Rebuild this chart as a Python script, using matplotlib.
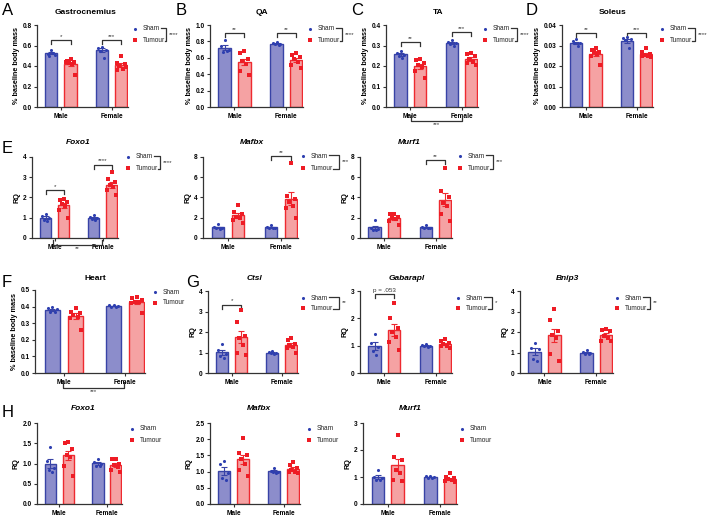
import matplotlib.pyplot as plt
import numpy as np

plt.rcParams['font.family'] = ['Liberation Sans', 'DejaVu Sans']

# Adatok (kb. leolvasva) - sorrend: sham ferfi, tumour ferfi, sham no, tumour no
gastro_sham_m = [0.56, 0.52, 0.51, 0.50, 0.53]
gastro_tum_m = [0.47, 0.45, 0.44, 0.43, 0.42, 0.44, 0.31]
gastro_sham_f = [0.59, 0.58, 0.56, 0.55, 0.48]
gastro_tum_f = [0.50, 0.43, 0.42, 0.40, 0.37, 0.36, 0.39]

qa_sham_m = [0.82, 0.75, 0.69, 0.67, 0.68]
qa_tum_m = [0.68, 0.66, 0.58, 0.56, 0.52, 0.44, 0.39]
qa_sham_f = [0.79, 0.78, 0.77, 0.77, 0.76]
qa_tum_f = [0.66, 0.64, 0.61, 0.58, 0.55, 0.51, 0.47]

ta_sham_m = [0.275, 0.262, 0.255, 0.25, 0.24]
ta_tum_m = [0.235, 0.23, 0.215, 0.205, 0.195, 0.175, 0.14]
ta_sham_f = [0.325, 0.318, 0.31, 0.305, 0.30]
ta_tum_f = [0.262, 0.258, 0.25, 0.235, 0.22, 0.215, 0.205]

sol_sham_m = [0.033, 0.032, 0.031, 0.031, 0.030]
sol_tum_m = [0.029, 0.028, 0.027, 0.027, 0.026, 0.025, 0.0205]
sol_sham_f = [0.034, 0.0335, 0.033, 0.0328, 0.0287]
sol_tum_f = [0.0288, 0.027, 0.026, 0.0255, 0.025, 0.0248, 0.0245]

efox_sham_m = [1.2, 1.1, 1.0, 0.9, 0.85]
efox_tum_m = [1.95, 1.9, 1.8, 1.7, 1.6, 1.4, 1.0]
efox_sham_f = [1.15, 1.05, 1.0, 0.95, 0.88]
efox_tum_f = [3.25, 2.9, 2.75, 2.6, 2.5, 2.35, 2.1]

emaf_sham_m = [1.35, 1.05, 1.0, 0.95, 0.9]
emaf_tum_m = [3.25, 2.6, 2.4, 2.1, 2.0, 1.8, 1.5]
emaf_sham_f = [1.3, 1.05, 1.0, 0.95, 0.95]
emaf_tum_f = [7.45, 4.1, 3.9, 3.6, 3.2, 3.0, 2.0]

emur_sham_m = [1.75, 1.0, 0.9, 0.8, 0.75]
emur_tum_m = [2.4, 2.35, 2.1, 2.0, 1.9, 1.7, 1.3]
emur_sham_f = [1.3, 1.05, 1.0, 0.95, 0.95]
emur_tum_f = [6.95, 4.6, 4.0, 3.5, 3.2, 2.4, 1.7]

heart_sham_m = [0.40, 0.39, 0.385, 0.37, 0.365]
heart_tum_m = [0.39, 0.37, 0.36, 0.35, 0.34, 0.33, 0.26]
heart_sham_f = [0.41, 0.408, 0.405, 0.40, 0.395]
heart_tum_f = [0.46, 0.45, 0.44, 0.43, 0.425, 0.42, 0.36]

ctsl_sham_m = [1.43, 1.1, 0.95, 0.85, 0.75]
ctsl_tum_m = [3.05, 2.5, 1.8, 1.7, 1.35, 1.0, 0.9]
ctsl_sham_f = [1.05, 1.02, 1.0, 0.98, 0.95]
ctsl_tum_f = [1.7, 1.6, 1.4, 1.35, 1.25, 1.2, 1.0]

gab_sham_m = [1.43, 1.1, 0.95, 0.8, 0.65]
gab_tum_m = [2.57, 2.0, 1.65, 1.5, 1.3, 1.15, 0.85]
gab_sham_f = [1.05, 1.02, 1.0, 0.99, 0.96]
gab_tum_f = [1.25, 1.18, 1.1, 1.05, 1.0, 0.98, 0.93]

bnip_sham_m = [1.48, 1.22, 1.19, 0.7, 0.57]
bnip_tum_m = [3.14, 2.57, 2.03, 1.85, 1.7, 0.95, 0.57]
bnip_sham_f = [1.1, 1.02, 1.0, 0.95, 0.93]
bnip_tum_f = [2.15, 2.1, 2.05, 1.8, 1.7, 1.55, 1.55]

hfox_sham_m = [1.4, 1.05, 0.9, 0.85, 0.8]
hfox_tum_m = [1.54, 1.5, 1.35, 1.2, 1.15, 0.95, 0.7]
hfox_sham_f = [1.1, 1.03, 1.0, 0.95, 0.93]
hfox_tum_f = [1.12, 1.1, 1.0, 0.97, 0.92, 0.85, 0.8]

hmaf_sham_m = [1.33, 1.25, 0.95, 0.8, 0.75]
hmaf_tum_m = [2.04, 1.58, 1.5, 1.4, 1.22, 1.06, 0.86]
hmaf_sham_f = [1.11, 1.02, 1.0, 0.98, 0.95]
hmaf_tum_f = [1.3, 1.2, 1.1, 1.05, 1.0, 0.98, 0.95]

hmur_sham_m = [1.25, 1.0, 0.95, 0.9, 0.88]
hmur_tum_m = [2.54, 1.74, 1.64, 1.27, 1.15, 0.9, 0.84]
hmur_sham_f = [1.04, 1.02, 1.0, 0.98, 0.96]
hmur_tum_f = [1.14, 1.0, 0.95, 0.92, 0.9, 0.85, 0.82]

nemek = ['Male', 'Female']

# szinek
SHAM_EDGE = '#3843A6'
SHAM_FACE = '#8C8DCB'
SHAM_DOT = '#2E3FB0'
TUM_EDGE = '#EE2A30'
TUM_FACE = '#F5A2A3'
TUM_DOT = '#EE1C25'
DARK = '#333333'

W, H = 709, 516
fig = plt.figure(figsize=(W / 100, H / 100), dpi=100)

pos = [0, 1, 2.65, 3.65]
jitter = [0, -0.2, 0.2, -0.1, 0.1, -0.24, 0.24]


def panel(box, ylab, ymax, step, fmt, groups, brackets=()):
    x0, x1, yt, yb = box
    ax = fig.add_axes([x0 / W, 1 - yb / H, (x1 - x0) / W, (yb - yt) / H])
    for i, vals in enumerate(groups):
        sham = i % 2 == 0
        edge = SHAM_EDGE if sham else TUM_EDGE
        face = SHAM_FACE if sham else TUM_FACE
        dot = SHAM_DOT if sham else TUM_DOT
        v = np.array(vals)
        m = v.mean()
        sem = v.std(ddof=1) / np.sqrt(len(v))
        ax.bar(pos[i], m, width=0.64, color=face, edgecolor=edge, linewidth=1.0, zorder=2)
        ax.errorbar(pos[i], m, yerr=sem, color=edge, capsize=2.2, elinewidth=0.8,
                    capthick=0.8, zorder=3)
        xs = pos[i] + np.array(jitter[:len(v)])
        ax.scatter(xs, v, s=5, color=dot, marker='o' if sham else 's', linewidths=0,
                   zorder=4, clip_on=False)
    for (g, y, txt) in brackets:
        p0, p1 = pos[2 * g], pos[2 * g + 1]
        d = ymax * 0.05
        ax.plot([p0, p0, p1, p1], [y - d, y, y, y - d], color=DARK, lw=0.9, clip_on=False)
        ax.text((p0 + p1) / 2, y + ymax * 0.015, txt, ha='center', va='bottom',
                fontsize=4.5, color=DARK)
    ax.set_xlim(-0.75, 4.0)
    ax.set_ylim(0, ymax)
    ax.set_yticks(np.arange(0, ymax + step / 2, step))
    ax.set_yticklabels([fmt.format(t) for t in np.arange(0, ymax + step / 2, step)])
    ax.set_xticks([0.5, 3.15])
    ax.set_xticklabels(nemek)
    for s in ['top', 'right']:
        ax.spines[s].set_visible(False)
    for s in ['left', 'bottom']:
        ax.spines[s].set_linewidth(0.9)
        ax.spines[s].set_color(DARK)
    ax.tick_params(axis='both', length=2.5, width=0.8, pad=1.5, labelsize=4.7, colors=DARK)
    ax.tick_params(axis='both', labelcolor='black')
    for lbl in ax.get_xticklabels() + ax.get_yticklabels():
        lbl.set_fontweight('bold')
    ax.set_ylabel(ylab, fontsize=5.2, fontweight='bold', labelpad=2)
    return ax


bm = '% baseline body mass'
panel((37, 128, 25, 107), bm, 0.8, 0.2, '{:.1f}',
      [gastro_sham_m, gastro_tum_m, gastro_sham_f, gastro_tum_f],
      [(0, 0.65, '*'), (1, 0.65, '***')])
panel((210, 303, 25, 107), bm, 1.0, 0.2, '{:.1f}',
      [qa_sham_m, qa_tum_m, qa_sham_f, qa_tum_f],
      [(0, 0.9, '**'), (1, 0.9, '**')])
panel((386, 478, 25, 107), bm, 0.4, 0.1, '{:.1f}',
      [ta_sham_m, ta_tum_m, ta_sham_f, ta_tum_f],
      [(0, 0.318, '**'), (1, 0.364, '***')])
panel((562, 653, 25, 107), bm, 0.04, 0.01, '{:.2f}',
      [sol_sham_m, sol_tum_m, sol_sham_f, sol_tum_f],
      [(0, 0.0362, '**'), (1, 0.0362, '***')])

panel((32, 118, 157, 238), 'RQ', 4, 1, '{:.0f}',
      [efox_sham_m, efox_tum_m, efox_sham_f, efox_tum_f],
      [(0, 2.37, '*'), (1, 3.62, '****')])
panel((203, 298, 157, 238), 'RQ', 8, 2, '{:.0f}',
      [emaf_sham_m, emaf_tum_m, emaf_sham_f, emaf_tum_f],
      [(1, 8.1, '**')])
panel((360, 452, 157, 238), 'RQ', 8, 2, '{:.0f}',
      [emur_sham_m, emur_tum_m, emur_sham_f, emur_tum_f],
      [(1, 7.7, '**')])

panel((35, 145, 290, 373), bm, 0.5, 0.1, '{:.1f}',
      [heart_sham_m, heart_tum_m, heart_sham_f, heart_tum_f])
panel((208, 298, 291, 373), 'RQ', 4, 1, '{:.0f}',
      [ctsl_sham_m, ctsl_tum_m, ctsl_sham_f, ctsl_tum_f],
      [(0, 3.33, '*')])
panel((360, 452, 291, 373), 'RQ', 3, 1, '{:.0f}',
      [gab_sham_m, gab_tum_m, gab_sham_f, gab_tum_f],
      [(0, 2.9, 'p = .053')])
panel((520, 613, 291, 373), 'RQ', 4, 1, '{:.0f}',
      [bnip_sham_m, bnip_tum_m, bnip_sham_f, bnip_tum_f])

panel((37, 122, 423, 504), 'RQ', 2.0, 0.5, '{:.1f}',
      [hfox_sham_m, hfox_tum_m, hfox_sham_f, hfox_tum_f])
panel((210, 300, 423, 504), 'RQ', 2.5, 0.5, '{:.1f}',
      [hmaf_sham_m, hmaf_tum_m, hmaf_sham_f, hmaf_tum_f])
panel((363, 457, 423, 504), 'RQ', 3, 1, '{:.0f}',
      [hmur_sham_m, hmur_tum_m, hmur_sham_f, hmur_tum_f])

# felso reteg: betuk, cimek, jelmagyarazat, zarojelek (pixelben)
ov = fig.add_axes([0, 0, 1, 1])
ov.set_xlim(0, W)
ov.set_ylim(H, 0)
ov.axis('off')

betuk = [('A', 2, 15), ('B', 176, 15), ('C', 351, 15), ('D', 526, 15),
         ('E', 2, 153), ('F', 2, 287), ('G', 186, 287), ('H', 2, 417)]
for b, x, y in betuk:
    ov.text(x, y, b, fontsize=12, ha='left', va='baseline')

cimek = [('Gastrocnemius', 86, 12, False), ('QA', 262, 12, False), ('TA', 438, 12, False),
         ('Soleus', 613, 12, False), ('Foxo1', 78, 143, True), ('Mafbx', 252, 143, True),
         ('Murf1', 409, 143, True), ('Heart', 95, 279, False), ('Ctsl', 254, 279, True),
         ('Gabarapl', 407, 279, True), ('Bnip3', 567, 279, True), ('Foxo1', 83, 409, True),
         ('Mafbx', 259, 409, True), ('Murf1', 410, 409, True)]
for t, x, y, it in cimek:
    ov.text(x, y, t, fontsize=6, fontweight='bold', ha='center', va='center',
            fontstyle='italic' if it else 'normal')

# (pont x, sham y, tumour y, zarojel x, csillag)
legendak = [(135, 29, 40, 166, '****'), (310, 29, 40, 342, '****'),
            (485, 29, 40, 517, '****'), (662, 29, 40, 695, '****'),
            (128, 157, 168, 160, '****'), (303, 156, 168, 339, '***'),
            (460, 156, 168, 493, '***'), (155, 292, 303, None, ''),
            (303, 298, 308, 339, '**'), (458, 298, 308, 492, '*'),
            (617, 298, 308, 650, '**'), (132, 429, 440, None, ''),
            (309, 429, 440, None, ''), (462, 429, 440, None, '')]
for x, ys, yt, bx, st in legendak:
    ov.scatter([x], [ys], s=5, color=SHAM_DOT, marker='o', linewidths=0)
    ov.scatter([x], [yt], s=5, color=TUM_DOT, marker='s', linewidths=0)
    ov.text(x + 8, ys, 'Sham', fontsize=4.7, va='center', ha='left', color='#222222')
    ov.text(x + 8, yt, 'Tumour', fontsize=4.7, va='center', ha='left', color='#222222')
    if bx is not None:
        ov.plot([x + 26, bx, bx, x + 30], [ys - 1, ys - 1, yt + 1, yt + 1], color=DARK, lw=0.9)
        ov.text(bx + 3, (ys + yt) / 2, st, fontsize=4.5, va='center', ha='left', color=DARK)

# nemek kozotti osszehasonlitas (also zarojelek)
also = [(411, 462, 115, 121, '***'), (53, 102, 240, 245, '**'), (63, 124, 382, 388, '***')]
for xa, xb, ya, yb2, st in also:
    ov.plot([xa, xa, xb, xb], [ya, yb2, yb2, ya], color=DARK, lw=0.9)
    ov.text((xa + xb) / 2, yb2 + 1, st, fontsize=4.5, ha='center', va='top', color=DARK)

fig.savefig('out.png', dpi=100)
